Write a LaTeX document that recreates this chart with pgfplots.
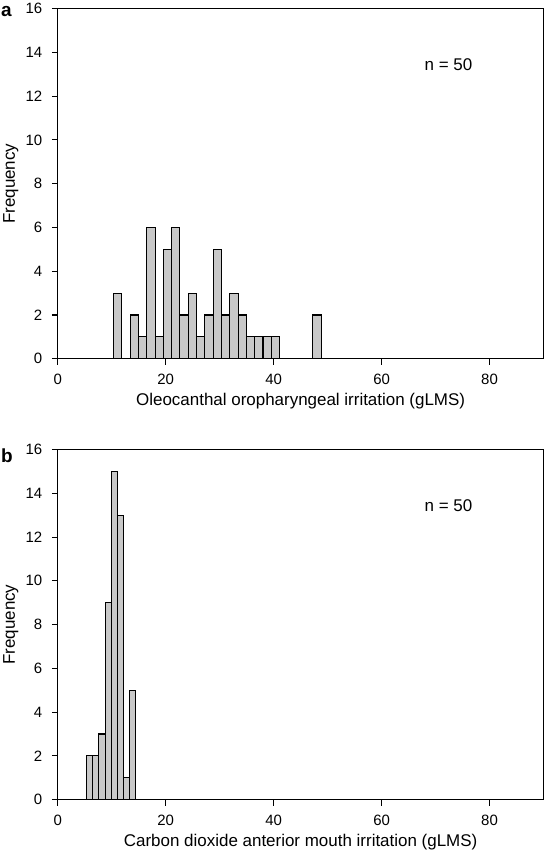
\documentclass[border=0pt]{standalone}
\usepackage{fontspec}
\setmainfont{Liberation Sans}
\usepackage{pgfplots}
\pgfplotsset{compat=1.18}
\definecolor{barfill}{RGB}{200,200,200}
\pgfplotsset{
  histo/.style={
    scale only axis, width=487pt, height=351pt,
    xmin=0, xmax=90, ymin=0, ymax=16,
    xtick={0,20,40,60,80}, ytick={0,2,...,16},
    tick pos=left, tick align=outside,
    major tick length=6pt,
    axis line style={line width=1.1pt},
    every tick/.style={line width=1.1pt, black},
    /pgf/number format/assume math mode=true,
    tick label style={font=\fontsize{15}{17}\selectfont},
    xticklabel style={anchor=base, yshift=-20pt},
    yticklabel style={anchor=east, xshift=-6pt},
    label style={font=\fontsize{17}{19}\selectfont},
    ylabel={Frequency},
    ylabel style={at={(axis description cs:-0.088,0.5)}, anchor=base},
    xlabel style={at={(axis description cs:0.5,0)}, anchor=base, yshift=-46.6pt},
    clip=false,
  },
  histbar/.style={ybar interval, fill=barfill, draw=black, line width=1.1pt},
}
\begin{document}
\begin{tikzpicture}[x=1pt,y=1pt]
\begin{axis}[histo, at={(57pt,-357pt)}, anchor=south west,
  xlabel={Oleocanthal oropharyngeal irritation (gLMS)}]
\addplot[histbar] coordinates {
(10.34,3) (11.88,0) (13.42,2) (14.95,1) (16.49,6) (18.03,1) (19.57,5)
(21.11,6) (22.64,2) (24.18,3) (25.72,1) (27.26,2) (28.80,5) (30.33,2)
(31.87,3) (33.41,2) (34.95,1) (36.49,1) (38.02,1) (39.56,1) (41.10,0)
(42.64,0) (44.18,0) (45.72,0) (47.25,2) (48.79,0)};
\node[font=\fontsize{17}{19}\selectfont] at (axis cs:72.4,13.45) {n = 50};
\end{axis}
\begin{axis}[histo, at={(57pt,-799pt)}, anchor=south west,
  xlabel={Carbon dioxide anterior mouth irritation (gLMS)}]
\addplot[histbar] coordinates {
(5.35,2) (6.49,2) (7.63,3) (8.77,9) (9.91,15) (11.05,13) (12.19,1)
(13.33,5) (14.47,0)};
\node[font=\fontsize{17}{19}\selectfont] at (axis cs:72.4,13.45) {n = 50};
\end{axis}
\node[font=\fontsize{19}{21}\selectfont\bfseries, anchor=north west, inner sep=0pt] at (0pt,-3pt) {a};
\node[font=\fontsize{19}{21}\selectfont\bfseries, anchor=north west, inner sep=0pt] at (0pt,-447pt) {b};
\end{tikzpicture}
\end{document}
